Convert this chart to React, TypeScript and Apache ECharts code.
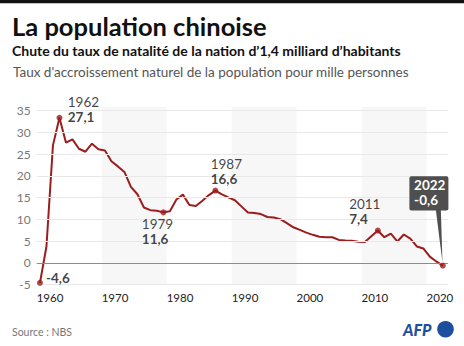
import React, { useEffect, useRef } from "react";
import * as echarts from "echarts";

const years: number[] = [];
for (let y = 1960; y <= 2022; y++) years.push(y);

const rates: number[] = [
  -4.57, 3.78, 26.99, 33.33, 27.64, 28.38, 26.22, 25.53, 27.38, 26.08,
  25.83, 23.33, 22.16, 20.89, 17.48, 15.77, 12.72, 12.12, 12.0, 11.61,
  11.87, 14.55, 15.68, 13.29, 13.08, 14.26, 15.57, 16.61, 15.73, 15.04,
  14.39, 12.98, 11.6, 11.45, 11.21, 10.55, 10.42, 10.06, 9.14, 8.18,
  7.58, 6.95, 6.45, 6.01, 5.87, 5.89, 5.28, 5.17, 5.08, 4.87,
  4.79, 6.13, 7.43, 5.9, 6.71, 4.93, 6.53, 5.58, 3.78, 3.32,
  1.45, 0.34, -0.6,
];

const xTickLabels = [1960, 1970, 1980, 1990, 2000, 2010, 2020];
const yTicks = [-5, 0, 5, 10, 15, 20, 25, 30, 35];
const bands: [number, number][] = [
  [1970, 1980],
  [1990, 2000],
  [2010, 2020],
];

const annotYears = [1960, 1963, 1979, 1987, 2012];
const annotYearText = ["", "1962", "1979", "1987", "2011"];
const annotValueText = ["-4,6", "27,1", "11,6", "16,6", "7,4"];

const calloutYear = 2022;
const calloutYearText = "2022";
const calloutValueText = "-0,6";

const FONT = "Lato";
const RED = "#9b1d1d";
const MID = 0.5; // values are plotted at mid-year

// label offsets (block left, block centre) relative to the point
const annotOffsets: [number, number][] = [
  [6, -4.5],
  [8.3, -8.4],
  [-21.6, 19],
  [-4.7, -19.5],
  [-28.7, -19.5],
];

export default function App() {
  const ref = useRef<HTMLDivElement>(null);
  useEffect(() => {
    if (!ref.current) return;
    const chart = echarts.init(ref.current, null, { renderer: "svg" });
    const valueOf = (yr: number) => rates[years.indexOf(yr)];

    const scatterData: any[] = annotYears.map((yr, i) => {
      const [ox, oy] = annotOffsets[i];
      const txt = annotYearText[i]
        ? `{y|${annotYearText[i]}}\n{v|${annotValueText[i]}}`
        : `{v|${annotValueText[i]}}`;
      return {
        value: [yr + MID, valueOf(yr)],
        label: {
          show: true,
          position: [ox + 3, oy + 3],
          align: "left",
          verticalAlign: "middle",
          formatter: txt,
          rich: {
            y: { fontSize: 13.5, color: "#111", fontFamily: FONT, lineHeight: 15 },
            v: {
              fontSize: 13.5,
              color: "#111",
              fontWeight: "bold",
              fontFamily: FONT,
              lineHeight: 15,
            },
          },
        },
      };
    });
    scatterData.push({
      value: [calloutYear + MID, valueOf(calloutYear)],
      label: { show: false },
    });

    const option: any = {
      animation: false,
      backgroundColor: "#fff",
      grid: { left: 36.7, right: 16, top: 107, bottom: 61.3 },
      xAxis: {
        type: "value",
        min: 1960,
        max: 2023.3,
        splitLine: { show: false },
        axisLine: { show: false },
        axisTick: { show: false },
        axisLabel: {
          customValues: xTickLabels,
          align: "left",
          alignMinLabel: "left",
          alignMaxLabel: "left",
          margin: 7,
          color: "#222",
          fontSize: 11.5,
          fontFamily: FONT,
          showMinLabel: true,
          hideOverlap: false,
          formatter: (v: number) => String(v),
        },
      },
      yAxis: {
        type: "value",
        min: -5,
        max: 35.8,
        interval: 5,
        splitLine: { show: false },
        axisLine: { show: false },
        axisTick: { show: false },
        axisLabel: {
          margin: 6,
          color: "#777",
          fontSize: 12,
          fontFamily: FONT,
          formatter: (v: number) =>
            yTicks.indexOf(Math.round(v * 100) / 100) >= 0 ? String(v) : "",
        },
      },
      graphic: [
        { type: "rect", shape: { x: 0, y: 0, width: 464, height: 3.3 }, style: { fill: "#111" } },
        {
          type: "text",
          x: 12,
          y: 25.5,
          style: {
            text: "La population chinoise",
            fill: "#111",
            fontSize: 25.5,
            fontWeight: "bold",
            fontFamily: FONT,
            verticalAlign: "middle",
          },
        },
        {
          type: "text",
          x: 12,
          y: 50.5,
          style: {
            text: "Chute du taux de natalité de la nation d’1,4 milliard d’habitants",
            fill: "#111",
            fontSize: 14,
            fontWeight: "bold",
            fontFamily: FONT,
            verticalAlign: "middle",
          },
        },
        {
          type: "text",
          x: 13,
          y: 72,
          style: {
            text: "Taux d'accroissement naturel de la population pour mille personnes",
            fill: "#555",
            fontSize: 13.5,
            fontFamily: FONT,
            verticalAlign: "middle",
          },
        },
        {
          type: "text",
          x: 12,
          y: 331.5,
          style: {
            text: "Source : NBS",
            fill: "#777",
            fontSize: 10.5,
            fontFamily: FONT,
            verticalAlign: "middle",
          },
        },
        {
          type: "text",
          x: 403,
          y: 329.5,
          style: {
            text: "AFP",
            fill: "#1d4f9f",
            fontSize: 16,
            fontWeight: 900,
            fontStyle: "italic",
            fontFamily: FONT,
            verticalAlign: "middle",
          },
        },
        {
          type: "circle",
          shape: { cx: 445.5, cy: 329.2, r: 8.3 },
          style: { fill: "#1d4f9f" },
        },
      ],
      series: [
        {
          type: "line",
          data: [],
          z: 0,
          silent: true,
          markArea: {
            silent: true,
            itemStyle: { color: "#f7f7f7" },
            data: bands.map(([a, b]) => [{ xAxis: a }, { xAxis: b }]),
          },
        },
        {
          type: "line",
          data: years.map((y, i) => [y + MID, rates[i]]),
          showSymbol: false,
          symbol: "none",
          lineStyle: { color: RED, width: 2 },
          z: 3,
          silent: true,
          markLine: {
            silent: true,
            symbol: ["none", "none"],
            label: { show: false },
            data: [
              ...yTicks
                .filter((v) => v !== 0)
                .map((v) => ({ yAxis: v, lineStyle: { color: "#e8e8e8", width: 1, type: "solid" } })),
              { yAxis: 0, lineStyle: { color: "#8c8c8c", width: 1, type: "solid" } },
            ],
          },
        },
        {
          type: "scatter",
          data: scatterData,
          symbolSize: 6,
          itemStyle: { color: RED },
          z: 5,
          silent: true,
        },
        {
          type: "custom",
          z: 6,
          silent: true,
          data: [[calloutYear + MID, valueOf(calloutYear)]],
          renderItem: (_p: any, api: any) => {
            const pt = api.coord([api.value(0), api.value(1)]);
            const x = pt[0];
            const y = pt[1];
            const txtStyle = {
              fill: "#fff",
              fontSize: 13.5,
              fontWeight: "bold",
              fontFamily: FONT,
              verticalAlign: "middle",
            };
            return {
              type: "group",
              children: [
                {
                  type: "polygon",
                  shape: { points: [[x - 7, y - 56], [x - 2, y - 56], [x - 0.3, y - 3]] },
                  style: { fill: "#4f4f4f" },
                },
                {
                  type: "rect",
                  shape: { x: x - 33.4, y: y - 89.3, width: 39, height: 34.3, r: 2 },
                  style: { fill: "#4f4f4f" },
                },
                {
                  type: "text",
                  x: x - 28.7,
                  y: y - 80.6,
                  style: { ...txtStyle, text: calloutYearText },
                },
                {
                  type: "text",
                  x: x - 28.7,
                  y: y - 65.8,
                  style: { ...txtStyle, text: calloutValueText },
                },
              ],
            };
          },
        },
      ],
    };
    chart.setOption(option);
    return () => chart.dispose();
  }, []);
  return (
    <div
      ref={ref}
      style={{ position: "absolute", left: 0, top: 0, width: 464, height: 346, background: "#fff" }}
    />
  );
}
